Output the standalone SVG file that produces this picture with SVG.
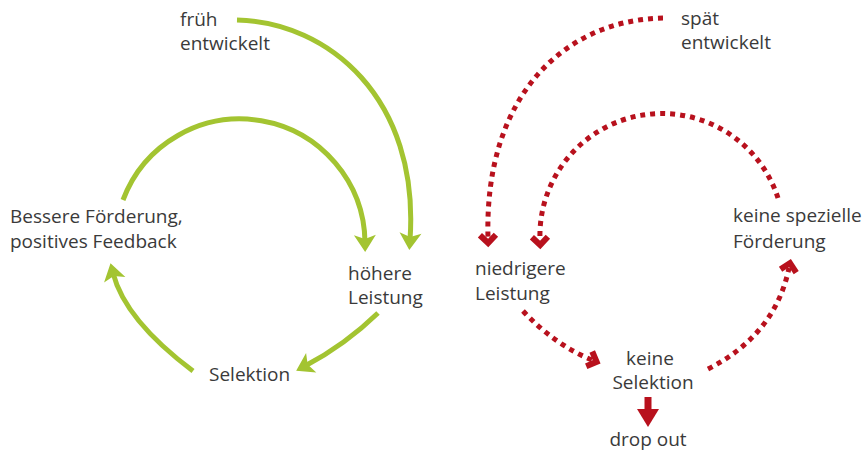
<svg xmlns="http://www.w3.org/2000/svg" width="866" height="453" viewBox="0 0 866 453">
<defs>
<style>
text{font-family:"Open Sans","Noto Sans","Liberation Sans",sans-serif;font-size:19px;fill:#3a3a3a}
.mid{text-anchor:middle}
.g{fill:none;stroke:#a3c431;stroke-width:5;stroke-linecap:butt}
.r{fill:none;stroke:#b8111d;stroke-width:5;stroke-dasharray:5 5;stroke-linecap:butt}
</style>
<marker id="ag" markerUnits="userSpaceOnUse" markerWidth="30" markerHeight="30" refX="0" refY="0" orient="auto" viewBox="-15 -15 30 30" overflow="visible">
<path d="M10,0 L-7,-11 L-3,0 L-7,11 Z" fill="#a3c431"/>
</marker>
<marker id="ar" markerUnits="userSpaceOnUse" markerWidth="30" markerHeight="30" refX="0" refY="0" orient="auto" viewBox="-15 -15 30 30" overflow="visible">
<polyline points="-3,-8 5,0 -3,8" fill="none" stroke="#b8111d" stroke-width="6" stroke-linejoin="miter"/>
</marker>
</defs>
<g id="connectors">
<path class="g" d="M237,20 C328,22 420,98 410,240" marker-end="url(#ag)"/>
<path class="g" d="M123,200 A125,125 0 0 1 365,242" marker-end="url(#ag)"/>
<path class="g" d="M378,313 Q345,345 305,366" marker-end="url(#ag)"/>
<path class="g" d="M193,371 Q125,320 113,273" marker-end="url(#ag)"/>
<path class="r" d="M663,18 C565,20 484,95 488,238" marker-end="url(#ar)"/>
<path class="r" d="M778,198 A122,122 0 0 0 540,240" marker-end="url(#ar)"/>
<path class="r" d="M523,311 Q555,345 592,360" marker-end="url(#ar)"/>
<path class="r" d="M708,369 Q775,335 789,268" marker-end="url(#ar)"/>
<path d="M648,397 L648,412" stroke="#b8111d" stroke-width="7" fill="none"/>
<polygon points="637,409 659,409 648,427" fill="#b8111d"/>
</g>
<g id="frueh"><text x="180" y="26">früh</text><text x="180" y="50">entwickelt</text></g>
<g id="foerderung"><text x="10" y="223">Bessere Förderung,</text><text x="10" y="248">positives Feedback</text></g>
<g id="hoehere"><text x="348" y="280">höhere</text><text x="348" y="304">Leistung</text></g>
<g id="selektion"><text x="209" y="381">Selektion</text></g>
<g id="spaet"><text x="681" y="25">spät</text><text x="681" y="49">entwickelt</text></g>
<g id="keinefoerderung"><text x="733" y="222">keine spezielle</text><text x="733" y="248">Förderung</text></g>
<g id="niedrigere"><text x="475" y="275">niedrigere</text><text x="475" y="300">Leistung</text></g>
<g id="keineselektion"><text class="mid" x="650" y="365">keine</text><text class="mid" x="653" y="389">Selektion</text></g>
<g id="dropout"><text class="mid" x="648" y="446">drop out</text></g>
</svg>
